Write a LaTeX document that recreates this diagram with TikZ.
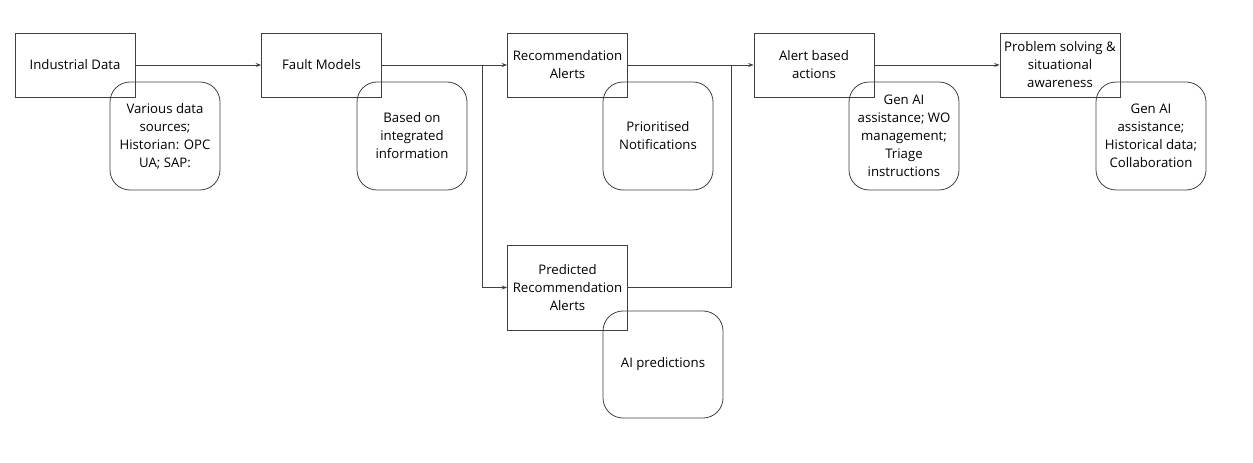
\documentclass[tikz,border=0pt]{standalone}
\usepackage{fontspec}
\setmainfont{Open Sans}
\usetikzlibrary{arrows.meta}
\tikzset{
    stage/.style={draw=black!75, line width=0.6pt, align=center, inner sep=2pt,
        minimum width=90pt, minimum height=48pt},
    note/.style={draw=black!75, line width=0.6pt, align=center, rounded corners=15pt,
        minimum width=82.5pt, minimum height=81pt},
    flow/.style={draw=black!75, line width=0.6pt, -{Stealth[length=4pt,width=3pt]}},
    link/.style={draw=black!75, line width=0.6pt}
}
\begin{document}
\begin{tikzpicture}[x=0.75pt, y=-0.75pt, font=\fontsize{9.9}{13.5}\selectfont]
    \useasboundingbox (0,0) rectangle (1253,463);
    % stages along the top
    \node[stage] (data) at (75,65) {Industrial Data};
    \node[stage] (fault) at (321.5,65) {Fault Models};
    \node[stage] (recom) at (567.5,65) {Recommendation\\Alerts};
    \node[stage] (action) at (814,65) {Alert based\\actions};
    \node[stage] (solve) at (1060,65) {Problem solving \&\\situational\\awareness};
    \node[stage, minimum height=63.75pt] (pred) at (567.5,287.5) {Predicted\\Recommendation\\Alerts};
    % notes
    \node[note] (datanote) at (165,136) {Various data\\sources;\\Historian: OPC\\UA; SAP:};
    \node[note] (faultnote) at (412,136) {Based on\\integrated\\information};
    \node[note] (recomnote) at (658,136) {Prioritised\\Notifications};
    \node[note] (actionnote) at (904,136) {Gen AI\\assistance; WO\\management;\\Triage\\instructions};
    \node[note] (solvenote) at (1151,136) {Gen AI\\assistance;\\Historical data;\\Collaboration};
    \node[note, minimum width=90pt, minimum height=80.25pt] (prednote) at (663,364.5) {AI predictions};
    % connectors
    \coordinate (split) at (482,65);
    \coordinate (join) at (731,65);
    \draw[flow] (data) -- (fault);
    \draw[flow] (fault) -- (recom);
    \draw[flow] (split) |- (pred);
    \draw[flow] (recom) -- (action);
    \draw[link] (pred) -| (join);
    \draw[flow] (action) -- (solve);
\end{tikzpicture}
\end{document}
